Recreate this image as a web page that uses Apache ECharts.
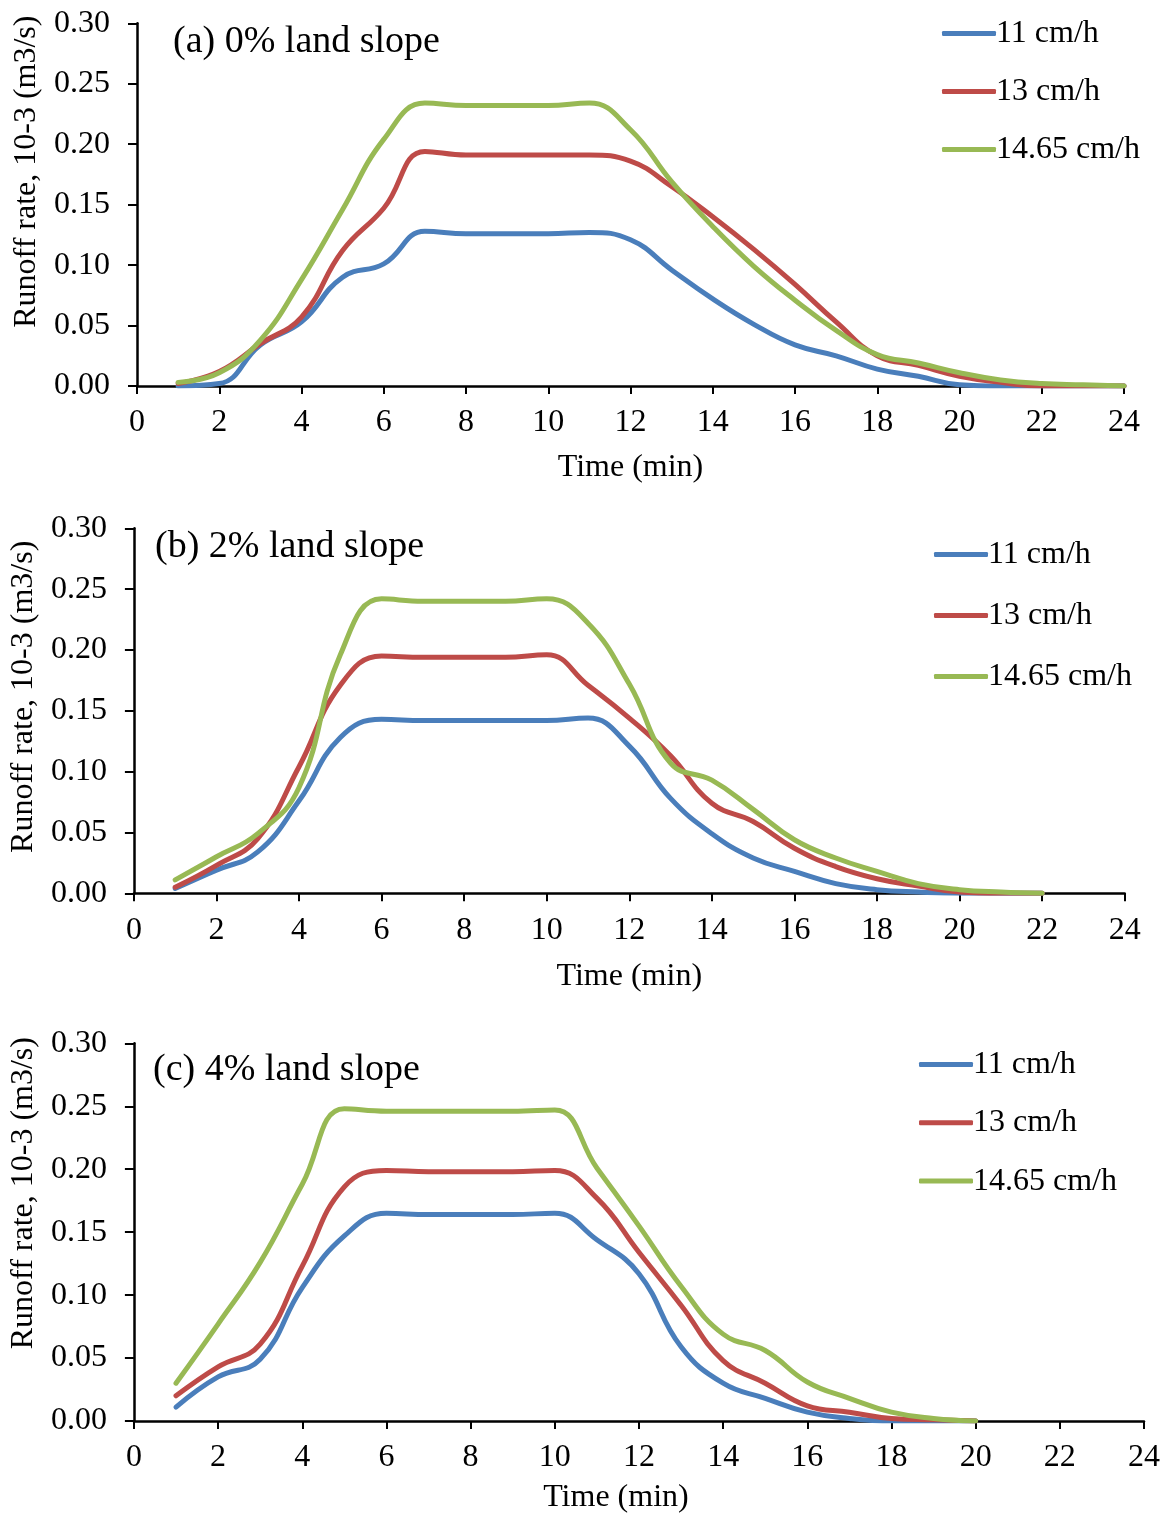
<!DOCTYPE html>
<html>
<head>
<meta charset="utf-8">
<script src="https://cdn.jsdelivr.net/npm/echarts@6/dist/echarts.min.js"></script>
<style>
  html, body { margin: 0; padding: 0; background: #fff; }
  #chart { width: 1167px; height: 1515px; }
</style>
</head>
<body>
<div id="chart"></div>
<script>
// ---------- data ----------
const seriesNames = ['11 cm/h', '13 cm/h', '14.65 cm/h'];
const panelTitles = ['(a) 0% land slope', '(b) 2% land slope', '(c) 4% land slope'];
const xTicks = [0, 2, 4, 6, 8, 10, 12, 14, 16, 18, 20, 22, 24];
const yTicks = [0.00, 0.05, 0.10, 0.15, 0.20, 0.25, 0.30];

// (a) 0% slope, time 1..24 min
const timeA = [1,2,3,4,5,6,7,8,9,10,11,12,13,14,15,16,17,18,19,20,21,22,23,24];
const a11   = [0.000,0.002,0.034,0.053,0.090,0.101,0.128,0.126,0.126,0.126,0.127,0.121,0.096,0.072,0.051,0.034,0.025,0.014,0.008,0.001,0.000,0.000,0.000,0.000];
const a13   = [0.002,0.012,0.035,0.057,0.112,0.147,0.194,0.191,0.191,0.191,0.191,0.186,0.165,0.140,0.113,0.084,0.053,0.025,0.017,0.008,0.003,0.000,0.000,0.000];
const a1465 = [0.003,0.011,0.038,0.088,0.146,0.204,0.234,0.232,0.232,0.232,0.234,0.212,0.169,0.132,0.099,0.071,0.046,0.026,0.019,0.011,0.005,0.002,0.001,0.000];

// (b) 2% slope, time 1..22 min
const timeB = [1,2,3,4,5,6,7,8,9,10,11,12,13,14,15,16,17,18,19,20,21,22];
const b11   = [0.004,0.019,0.034,0.076,0.128,0.143,0.142,0.142,0.142,0.142,0.144,0.121,0.078,0.049,0.029,0.018,0.008,0.003,0.001,0.000,0.000,0.000];
const b13   = [0.005,0.023,0.045,0.104,0.171,0.195,0.194,0.194,0.194,0.196,0.171,0.144,0.113,0.074,0.059,0.037,0.022,0.012,0.006,0.001,0.000,0.000];
const b1465 = [0.011,0.030,0.049,0.087,0.196,0.242,0.240,0.240,0.240,0.242,0.222,0.172,0.107,0.093,0.069,0.044,0.029,0.018,0.008,0.003,0.001,0.000];

// (c) 4% slope, time 1..20 min
const timeC = [1,2,3,4,5,6,7,8,9,10,11,12,13,14,15,16,17,18,19,20];
const c11   = [0.011,0.035,0.049,0.106,0.147,0.165,0.164,0.164,0.164,0.165,0.144,0.117,0.059,0.030,0.018,0.007,0.002,0.000,0.000,0.000];
const c13   = [0.020,0.043,0.061,0.123,0.186,0.199,0.198,0.198,0.198,0.199,0.177,0.134,0.092,0.048,0.030,0.012,0.007,0.002,0.001,0.000];
const c1465 = [0.030,0.077,0.126,0.188,0.248,0.246,0.246,0.246,0.246,0.247,0.201,0.155,0.107,0.069,0.056,0.031,0.018,0.007,0.002,0.000];

// ---------- styling / layout ----------
const FONT = "'Liberation Serif', 'Times New Roman', serif";
const colors = ['#4A7EBB', '#BE4B48', '#98B954'];

const panels = [
  { times: timeA, vals: [a11, a13, a1465],
    grid: { left: 137, top: 23.3, width: 987, height: 362.7 },
    legend: { left: 942, top: 17.5, itemGap: 26 },
    title: { x: 173, y: 45 }, xNameGap: 66, xNamePad: [0,0,0,0], yNameGap: 94, yNamePad: [0,0,0,66] },
  { times: timeB, vals: [b11, b13, b1465],
    grid: { left: 133.2, top: 528.3, width: 991.5, height: 365 },
    legend: { left: 934, top: 538.5, itemGap: 29 },
    title: { x: 155, y: 550 }, xNameGap: 67, xNamePad: [0,0,0,0], yNameGap: 93, yNamePad: [0,0,0,28] },
  { times: timeC, vals: [c11, c13, c1465],
    grid: { left: 129, top: 1043.3, width: 1015, height: 379 },
    legend: { left: 919, top: 1048.5, itemGap: 26.3 },
    title: { x: 153, y: 1073 }, xNameGap: 61, xNamePad: [0,46,0,0], yNameGap: 88, yNamePad: [0,0,0,78] }
];

const grids = [], xAxes = [], yAxes = [], series = [], legends = [], graphics = [];
panels.forEach((p, i) => {
  grids.push(Object.assign({ containLabel: false }, p.grid));
  xAxes.push({
    type: 'value', gridIndex: i, min: 0, max: 24, interval: 2,
    name: 'Time (min)', nameLocation: 'middle', nameGap: p.xNameGap,
    nameTextStyle: { fontFamily: FONT, fontSize: 32, color: '#000', padding: p.xNamePad },
    axisLine: { show: true, onZero: false, lineStyle: { color: '#000', width: 2.5 } },
    axisTick: { show: true, inside: false, length: 8, lineStyle: { color: '#000', width: 2 } },
    axisLabel: { fontFamily: FONT, fontSize: 32, color: '#000', margin: 21 },
    splitLine: { show: false }
  });
  yAxes.push({
    type: 'value', gridIndex: i, min: 0, max: 0.3, interval: 0.05,
    name: 'Runoff rate, 10-3 (m3/s)', nameLocation: 'middle', nameGap: p.yNameGap,
    nameTextStyle: { fontFamily: FONT, fontSize: 32, color: '#000', padding: p.yNamePad },
    axisLine: { show: true, lineStyle: { color: '#000', width: 2.5 } },
    axisTick: { show: true, inside: false, length: 9, lineStyle: { color: '#000', width: 2 } },
    axisLabel: { fontFamily: FONT, fontSize: 32, color: '#000', margin: 27,
                 formatter: v => v.toFixed(2) },
    splitLine: { show: false }
  });
  seriesNames.forEach((nm, k) => {
    series.push({
      name: nm, type: 'line', xAxisIndex: i, yAxisIndex: i,
      data: p.times.map((t, j) => [t, p.vals[k][j]]),
      smooth: 0.45, symbol: 'none', showSymbol: false,
      lineStyle: { color: colors[k], width: 5, cap: 'round', join: 'round' },
      itemStyle: { color: colors[k] },
      z: 2 + k, animation: false
    });
  });
  legends.push({
    orient: 'vertical', left: p.legend.left, top: p.legend.top, itemGap: p.legend.itemGap,
    icon: 'roundRect', itemWidth: 54, itemHeight: 5, padding: 0,
    data: seriesNames,
    textStyle: { fontFamily: FONT, fontSize: 32, color: '#000', lineHeight: 32, padding: [0,0,0,-5] },
    selectedMode: false
  });
  graphics.push({
    type: 'text', left: p.title.x, top: p.title.y - 22,
    style: { text: panelTitles[i], font: '38px ' + FONT, fill: '#000' }
  });
});

const chart = echarts.init(document.getElementById('chart'), null, { renderer: 'canvas' });
chart.setOption({
  backgroundColor: '#fff',
  animation: false,
  grid: grids, xAxis: xAxes, yAxis: yAxes, series: series,
  legend: legends, graphic: graphics
});
</script>
</body>
</html>
